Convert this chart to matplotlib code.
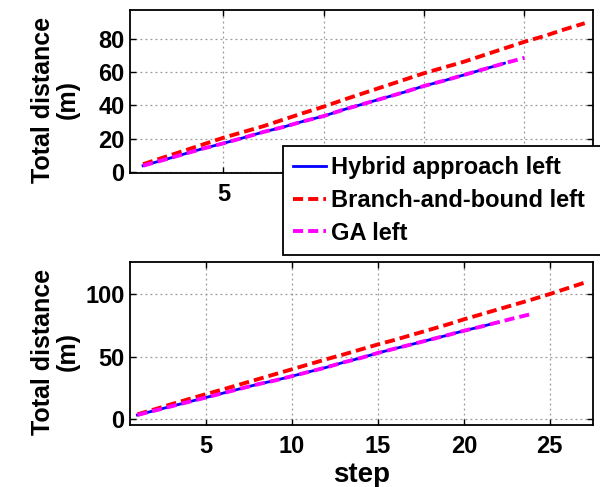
import matplotlib
matplotlib.use("Agg")
import matplotlib.pyplot as plt

plt.rcParams["font.family"] = ["Liberation Sans", "DejaVu Sans"]
plt.rcParams["font.weight"] = "bold"

# upper panel: cumulative distance per step
top_steps_hybrid = list(range(1, 20))
top_hybrid = [3.6, 7.0, 10.5, 14.0, 17.1, 20.5, 24.0, 27.0, 30.5, 33.6,
              37.5, 41.0, 44.5, 48.0, 51.8, 55.0, 58.5, 62.0, 65.5]
top_steps_bb = list(range(1, 24))
top_bb = [4.5, 8.5, 12.5, 16.5, 20.5, 24.0, 27.5, 31.5, 35.5, 39.3,
          43.5, 47.5, 51.5, 55.5, 59.5, 63.0, 66.5, 70.5, 74.5, 78.5,
          82.0, 86.0, 89.7]
top_steps_ga = list(range(1, 21))
top_ga = [3.6, 7.0, 10.5, 14.0, 17.1, 20.5, 24.0, 27.0, 30.5, 33.6,
          37.5, 41.0, 44.5, 48.0, 51.8, 55.0, 58.5, 62.0, 65.5, 68.8]
top_xticks = [5, 10, 15, 20]
top_xticklabels = ["5", "", "", ""]   # the rest sit under the legend
top_yticks = [0, 20, 40, 60, 80]

# lower panel
bot_steps_hybrid = list(range(1, 23))
bot_hybrid = [3.5, 7.0, 10.5, 14.0, 17.5, 21.0, 24.5, 28.0, 31.0, 34.5,
              38.0, 41.5, 45.5, 49.0, 53.0, 56.5, 60.0, 63.5, 67.0, 70.7,
              74.0, 77.5]
bot_steps_bb = list(range(1, 28))
bot_bb = [4.0, 8.0, 12.2, 16.2, 20.2, 24.0, 28.0, 32.0, 36.0, 40.0,
          44.0, 48.0, 51.8, 55.8, 59.8, 63.5, 67.5, 71.5, 75.5, 79.8,
          83.8, 87.8, 91.8, 95.8, 100.0, 104.5, 109.0]
bot_steps_ga = list(range(1, 25))
bot_ga = [3.5, 7.0, 10.5, 14.0, 17.5, 21.0, 24.5, 28.0, 31.0, 34.5,
          38.0, 41.5, 45.5, 49.0, 53.0, 56.5, 60.0, 63.5, 67.0, 70.7,
          74.0, 77.5, 81.0, 84.3]
bot_xticks = [5, 10, 15, 20, 25]
bot_yticks = [0, 50, 100]

labels = ["Hybrid approach left", "Branch-and-bound left", "GA left"]

fig = plt.figure(figsize=(6, 4.87), dpi=100)
ax1 = fig.add_axes([0.2167, 0.6448, 0.7712, 0.3347])
ax2 = fig.add_axes([0.2167, 0.1273, 0.7712, 0.3353])


def draw(ax, sh, h, sb, b, sg, g):
    l1, = ax.plot(sh, h, color="#0000ff", lw=2.0, zorder=3)
    l2, = ax.plot(sb, b, color="#ff0000", lw=2.8, dashes=(2.6, 1.3), zorder=3)
    l3, = ax.plot(sg, g, color="#ff00ff", lw=2.8, dashes=(2.6, 1.3), zorder=4)
    ax.grid(True, color="#999999", linestyle=(0, (1.5, 2.5)), lw=0.9)
    ax.tick_params(direction="in", top=True, right=True, length=4,
                   width=1.0, labelsize=17)
    ax.tick_params(axis="x", pad=7)
    ax.tick_params(axis="y", pad=4)
    for s in ax.spines.values():
        s.set_linewidth(1.3)
    ax.set_ylabel("Total distance\n(m)", fontsize=18, fontweight="bold",
                  va="center", linespacing=1.05)
    ax.yaxis.set_label_coords(-0.162, 0.45)
    return [l1, l2, l3]


handles = draw(ax1, top_steps_hybrid, top_hybrid, top_steps_bb, top_bb,
               top_steps_ga, top_ga)
ax1.set_xlim(0.35, 23.4)
ax1.set_ylim(-0.8, 97.7)
ax1.set_xticks(top_xticks, top_xticklabels)
ax1.set_yticks(top_yticks)

draw(ax2, bot_steps_hybrid, bot_hybrid, bot_steps_bb, bot_bb,
     bot_steps_ga, bot_ga)
ax2.set_xlim(0.57, 27.5)
ax2.set_ylim(-4.5, 125.8)
ax2.set_xticks(bot_xticks)
ax2.set_yticks(bot_yticks)
ax2.set_xlabel("step", fontsize=20, fontweight="bold", labelpad=3)

# legend box runs off the right edge of the figure
leg = fig.legend(handles, labels, loc="upper left", mode="expand",
                 bbox_to_anchor=(283 / 600, 1 - 146 / 487, 335 / 600, 0),
                 prop={"size": 17, "weight": "bold"},
                 handlelength=1.4, handletextpad=0.2, labelspacing=0.42,
                 borderpad=0.42, borderaxespad=0, fancybox=False,
                 framealpha=1, edgecolor="black")
leg.get_frame().set_linewidth(1.3)

fig.savefig("out.png", dpi=100)
